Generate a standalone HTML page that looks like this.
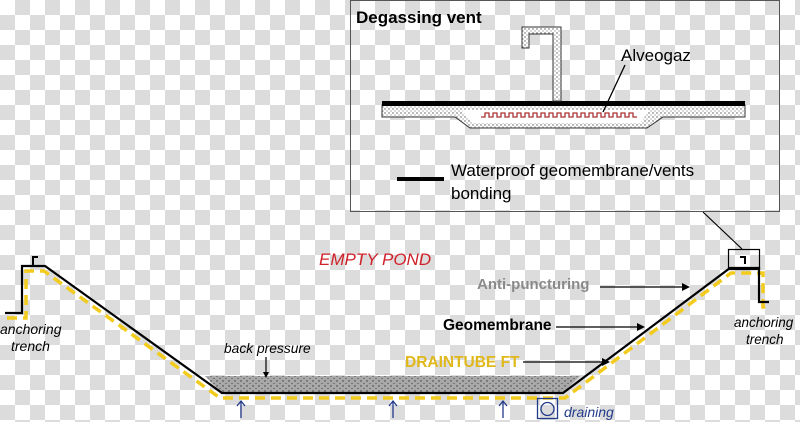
<!DOCTYPE html>
<html><head><meta charset="utf-8"><style>
html,body{margin:0;padding:0}
body{width:800px;height:422px;overflow:hidden;background-color:#fff;
background-image:conic-gradient(#dcdcdc 25%,#fff 0 50%,#dcdcdc 0 75%,#fff 0);background-size:30px 30px;}
svg{position:absolute;left:0;top:0}
text{font-family:"Liberation Sans",sans-serif}
</style></head><body>
<svg width="800" height="422" viewBox="0 0 800 422">
<defs>
<pattern id="dots" width="6" height="5" patternUnits="userSpaceOnUse">
<rect width="6" height="5" fill="#a9a9a9"/><circle cx="1" cy="1" r="0.7" fill="#333"/><circle cx="4" cy="3.5" r="0.6" fill="#444"/>
</pattern>
<pattern id="dots2" width="4" height="4" patternUnits="userSpaceOnUse">
<rect width="4" height="4" fill="#fff"/><circle cx="1" cy="1" r="0.7" fill="#555"/><circle cx="3" cy="3" r="0.6" fill="#777"/>
</pattern>
</defs>
<!-- inset -->
<rect x="350.5" y="0.5" width="429" height="211" fill="none" stroke="#555" stroke-width="1"/>
<text x="356" y="23" font-size="17" font-weight="bold">Degassing vent</text>
<path d="M382 105 L745 105 L745 117 L663 117 L647 128 L470 128 L455 117 L382 117 Z" fill="url(#dots2)" stroke="#333" stroke-width="1"/>
<path d="M462 110 L650 110 L640 123 L472 123 Z" fill="#fff"/>
<path d="M481 117 h4 v-4 h4 v4 h4 v-4 h4 v4 h4 v-4 h4 v4 h4 v-4 h4 v4 h4 v-4 h4 v4 h4 v-4 h4 v4 h4 v-4 h4 v4 h4 v-4 h4 v4 h4 v-4 h4 v4 h4 v-4 h4 v4 h4 v-4 h4 v4 h4 v-4 h4 v4 h4 v-4 h4 v4 h4 v-4 h4 v4 h4 v-4 h4 v4 h4 v-4 h4 v4 h4 v-4 h4 v4 h4 v-4 h4 v4 h4 v-4 h4 v4 h4" fill="none" stroke="#a33" stroke-width="1.3"/>
<rect x="382" y="101" width="363" height="5" fill="#000"/>
<path d="M522 27 L561 27 L561 101 L553 101 L553 34 L529 34 L529 48 L522 48 Z" fill="url(#dots2)" stroke="#333" stroke-width="1"/>
<text x="621" y="61" font-size="17">Alveogaz</text>
<line x1="625" y1="65" x2="603" y2="112" stroke="#000" stroke-width="1.3"/>
<rect x="397" y="177" width="47" height="4" fill="#000"/>
<text x="451" y="176" font-size="17">Waterproof geomembrane/vents</text>
<text x="451" y="199" font-size="17">bonding</text>
<line x1="703" y1="212" x2="742" y2="249" stroke="#000" stroke-width="1.2"/>
<rect x="728.5" y="249.5" width="31" height="20" fill="none" stroke="#000" stroke-width="1.2"/>
<path d="M740 257 h5 v7" fill="none" stroke="#000" stroke-width="2"/>
<!-- gravel -->
<path d="M205 376 L580 376 L563 393 L222 393 Z" fill="url(#dots)"/>
<!-- yellow dashed -->
<path d="M7 318 L26 318 L26 271 L44 271 L220 398 L565 398 L731 273 L763 273 L763 307 L771 307" fill="none" stroke="#f2cb1d" stroke-width="3.5" stroke-dasharray="10,6"/>
<!-- black membrane -->
<path d="M5 313 L22 313 L22 266 L45 266 L222 393 L563 393 L730 268 L759 268 L759 302 L769 302" fill="none" stroke="#000" stroke-width="2.2"/>
<path d="M33 266 L33 257 L38 257" fill="none" stroke="#000" stroke-width="2"/>
<!-- labels -->
<text x="319" y="265" font-size="17" font-style="italic" fill="#d0212a">EMPTY POND</text>
<text x="0" y="334" font-size="14" font-style="italic">anchoring</text>
<text x="11" y="351" font-size="14" font-style="italic">trench</text>
<text x="734" y="327" font-size="13.5" font-style="italic">anchoring</text>
<text x="746" y="344" font-size="13.5" font-style="italic">trench</text>
<text x="224" y="353" font-size="13.8" font-style="italic">back pressure</text>
<line x1="266" y1="357" x2="266" y2="376" stroke="#000" stroke-width="1.2"/>
<path d="M263 372 L266 378 L269 372 Z"/>
<text x="477" y="289" font-size="15" font-weight="bold" fill="#8a8a8a">Anti-puncturing</text>
<line x1="600" y1="287" x2="688" y2="287" stroke="#000" stroke-width="1.3"/>
<path d="M682 283 L690 287 L682 291 Z"/>
<text x="443" y="330" font-size="15.5" font-weight="bold">Geomembrane</text>
<line x1="556" y1="327" x2="643" y2="327" stroke="#000" stroke-width="1.3"/>
<path d="M637 323 L645 327 L637 331 Z"/>
<text x="405" y="367" font-size="15.5" font-weight="bold" fill="#e0b81c">DRAINTUBE FT</text>
<line x1="523" y1="362" x2="608" y2="362" stroke="#000" stroke-width="1.3"/>
<path d="M602 358 L610 362 L602 366 Z"/>
<!-- blue arrows -->
<g stroke="#223a8a" stroke-width="1.3" fill="none">
<path d="M241 418 V402 M237 406 L241 401 L245 406"/>
<path d="M393 418 V402 M389 406 L393 401 L397 406"/>
<path d="M503 418 V402 M499 406 L503 401 L507 406"/>
<rect x="537.5" y="398.5" width="20" height="20"/>
<circle cx="547.5" cy="409" r="6.5"/>
</g>
<text x="564" y="417" font-size="14" font-style="italic" fill="#223a8a">draining</text>
</svg>
</body></html>
